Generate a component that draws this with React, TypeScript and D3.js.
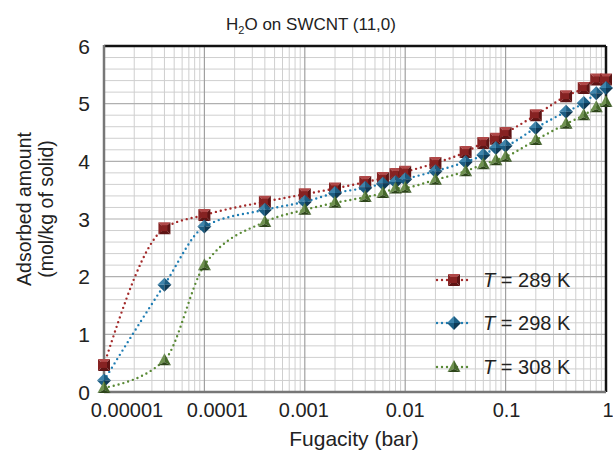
import React from 'react'
import * as d3 from 'd3'

const fugacity = [1e-5, 4e-5, 1e-4, 4e-4, 1e-3, 2e-3, 4e-3, 6e-3, 8e-3, 1e-2, 2e-2, 4e-2, 6e-2, 8e-2, 0.1, 0.2, 0.4, 0.6, 0.8, 1]
const t289 = [0.47, 2.84, 3.07, 3.3, 3.43, 3.53, 3.64, 3.71, 3.78, 3.82, 3.97, 4.16, 4.32, 4.39, 4.49, 4.8, 5.13, 5.27, 5.42, 5.42]
const t298 = [0.2, 1.86, 2.87, 3.16, 3.3, 3.45, 3.54, 3.61, 3.64, 3.69, 3.83, 3.99, 4.11, 4.23, 4.27, 4.58, 4.86, 5.01, 5.18, 5.27]
const t308 = [0.07, 0.55, 2.2, 2.95, 3.16, 3.28, 3.38, 3.45, 3.53, 3.54, 3.68, 3.83, 3.95, 4.02, 4.08, 4.37, 4.65, 4.8, 4.94, 5.03]

const xTicks = [1e-5, 1e-4, 1e-3, 1e-2, 1e-1, 1]
const xTickLabels = ['0.00001', '0.0001', '0.001', '0.01', '0.1', '1']
// labels at the low end are nudged right in the original
const xTickNudge = [23, 13, -1, 0, 1, 2]
const yTicks = [0, 1, 2, 3, 4, 5, 6]

const series = [
  { label: '289 K', values: t289, shape: 'square', line: '#a32a2a', base: '#862222', light: '#b04848', dark: '#5e1414' },
  { label: '298 K', values: t298, shape: 'diamond', line: '#1f7db3', base: '#1c5d82', light: '#3e84ab', dark: '#0f3a55' },
  { label: '308 K', values: t308, shape: 'triangle', line: '#5a8a36', base: '#46682c', light: '#6f9150', dark: '#2c4419' },
]

const W = 613
const H = 453
const margin = { left: 104, right: 7, top: 46, bottom: 61 }
const FONT = 'Liberation Sans, Arial, Helvetica, sans-serif'

function Marker({ x, y, s }) {
  const p = (pts) => pts.map(([a, b]) => `${x + a},${y + b}`).join(' ')
  if (s.shape === 'square') {
    const r = 6
    const i = 3
    return (
      <g>
        <polygon points={p([[-r, -r], [r, -r], [0, 0]])} fill={s.light} />
        <polygon points={p([[-r, -r], [-r, r], [0, 0]])} fill={s.base} />
        <polygon points={p([[r, -r], [r, r], [0, 0]])} fill={s.dark} />
        <polygon points={p([[-r, r], [r, r], [0, 0]])} fill={s.dark} />
        <rect x={x - i} y={y - i} width={i * 2} height={i * 2} fill={s.base} />
      </g>
    )
  }
  if (s.shape === 'diamond') {
    const r = 7
    return (
      <g>
        <polygon points={p([[0, -r], [-r, 0], [0, 0]])} fill={s.light} />
        <polygon points={p([[0, -r], [r, 0], [0, 0]])} fill={s.base} />
        <polygon points={p([[-r, 0], [0, r], [0, 0]])} fill={s.base} />
        <polygon points={p([[r, 0], [0, r], [0, 0]])} fill={s.dark} />
      </g>
    )
  }
  const h = 7
  return (
    <g>
      <polygon points={p([[0, -h], [-6.5, 5], [0, 2]])} fill={s.light} />
      <polygon points={p([[0, -h], [6.5, 5], [0, 2]])} fill={s.base} />
      <polygon points={p([[-6.5, 5], [6.5, 5], [0, 2]])} fill={s.dark} />
    </g>
  )
}

export default function App() {
  const x = d3.scaleLog().domain([1e-5, 1]).range([margin.left, W - margin.right])
  const y = d3.scaleLinear().domain([0, 6]).range([H - margin.bottom, margin.top])

  const minorX = []
  for (let e = -5; e < 0; e++) {
    for (let k = 2; k <= 9; k++) minorX.push(k * Math.pow(10, e))
  }
  const minorY = d3.range(0, 30).map((i) => i * 0.2).filter((v) => Math.abs(v - Math.round(v)) > 1e-6)

  const line = d3
    .line()
    .x((d) => x(d[0]))
    .y((d) => y(d[1]))
    .curve(d3.curveMonotoneX)

  const [x0, x1] = x.range()
  const [y0, y1] = y.range()
  const legendX = 437
  const legendY = [280, 323, 367]

  return (
    <svg width={W} height={H} style={{ position: 'absolute', left: 0, top: 0, background: '#fff' }} fontFamily={FONT}>
      {/* grid */}
      <g>
        {minorY.map((v) => (
          <line key={'my' + v} x1={x0} x2={x1} y1={y(v)} y2={y(v)} stroke="#cfcfcf" strokeWidth={1} />
        ))}
        {minorX.map((v) => (
          <line key={'mx' + v} x1={x(v)} x2={x(v)} y1={y0} y2={y1} stroke="#cfcfcf" strokeWidth={1} />
        ))}
        {yTicks.map((v) => (
          <line key={'y' + v} x1={x0} x2={x1} y1={y(v)} y2={y(v)} stroke="#b0b0b0" strokeWidth={1.2} />
        ))}
        {xTicks.map((v) => (
          <line key={'x' + v} x1={x(v)} x2={x(v)} y1={y0} y2={y1} stroke="#a0a0a0" strokeWidth={1.2} />
        ))}
      </g>

      {/* frame */}
      <line x1={x0} x2={x1} y1={y1} y2={y1} stroke="#111" strokeWidth={2.5} />
      <line x1={x1} x2={x1} y1={y1} y2={y0} stroke="#111" strokeWidth={2.5} />
      <line x1={x0} x2={x0} y1={y1 - 1} y2={y0 + 1} stroke="#777" strokeWidth={2.5} />
      <line x1={x0} x2={x1} y1={y0} y2={y0} stroke="#777" strokeWidth={2.5} />

      {/* lines */}
      {series.map((s) => (
        <path
          key={'l' + s.label}
          d={line(fugacity.map((f, i) => [f, s.values[i]]))}
          fill="none"
          stroke={s.line}
          strokeWidth={2.4}
          strokeDasharray="0 5"
          strokeLinecap="round"
        />
      ))}

      {/* markers */}
      {series.map((s) => (
        <g key={'m' + s.label}>
          {fugacity.map((f, i) => (
            <Marker key={i} x={x(f)} y={y(s.values[i])} s={s} />
          ))}
        </g>
      ))}

      {/* y ticks */}
      {yTicks.map((v) => (
        <text key={'yt' + v} x={x0 - 14} y={y(v)} dy="0.36em" textAnchor="end" fontSize={21} fill="#222">
          {v}
        </text>
      ))}

      {/* x ticks */}
      {xTicks.map((v, i) => (
        <text key={'xt' + v} x={x(v) + xTickNudge[i]} y={y0 + 25} textAnchor="middle" fontSize={20} fill="#222">
          {xTickLabels[i]}
        </text>
      ))}

      {/* legend */}
      {series.map((s, i) => (
        <g key={'lg' + s.label}>
          <line
            x1={legendX}
            x2={legendX + 34}
            y1={legendY[i]}
            y2={legendY[i]}
            stroke={s.line}
            strokeWidth={2.4}
            strokeDasharray="0 5"
            strokeLinecap="round"
          />
          <Marker x={legendX + 17} y={legendY[i]} s={s} />
          <text x={legendX + 46} y={legendY[i]} dy="0.36em" fontSize={20} fill="#222">
            <tspan fontStyle="italic">T</tspan>
            {' = ' + s.label}
          </text>
        </g>
      ))}

      {/* titles */}
      <text x={311} y={30} textAnchor="middle" fontSize={17} fill="#222">
        H<tspan fontSize={11} dy={4}>2</tspan>
        <tspan dy={-4}>O on SWCNT (11,0)</tspan>
      </text>
      <text x={354} y={446} textAnchor="middle" fontSize={21} fill="#222">
        Fugacity (bar)
      </text>
      <text transform="translate(31,209) rotate(-90)" textAnchor="middle" fontSize={19.5} fill="#222">
        Adsorbed amount
      </text>
      <text transform="translate(53,209) rotate(-90)" textAnchor="middle" fontSize={19.5} fill="#222">
        (mol/kg of solid)
      </text>
    </svg>
  )
}
